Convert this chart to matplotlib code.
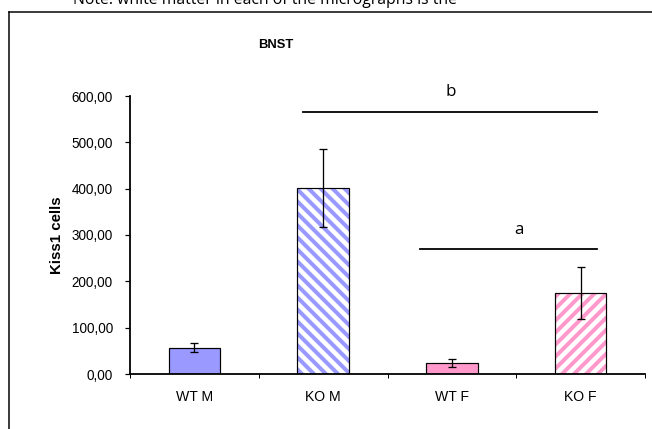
import numpy as np
import matplotlib.pyplot as plt
from matplotlib.lines import Line2D

groups = ['WT M', 'KO M', 'WT F', 'KO F']
cells = [57, 401, 24, 175]
sem = [9, 84, 9, 56]
colors = ['#9999ff', '#9999ff', '#ff99cc', '#ff99cc']
hatches = [None, '\\\\', None, '//']

# significance brackets: (x start, x end, height, letter, letter x)
brackets = [(0.84, 3.13, 566, 'b', 1.99), (1.75, 3.13, 269, 'a', 2.52)]

plt.rcParams['hatch.linewidth'] = 4

fig = plt.figure(figsize=(652 / 72, 429 / 72), dpi=72)
ax = fig.add_axes([130 / 652, 55 / 429, 515 / 652, 278 / 429])

x = np.arange(len(groups))
for i in range(len(groups)):
    if hatches[i] is None:
        ax.bar(x[i], cells[i], width=0.4, color=colors[i], edgecolor='black',
               linewidth=1.2, zorder=2)
    else:
        # striped fill first, black outline drawn on top
        ax.bar(x[i], cells[i], width=0.4, color='white', edgecolor=colors[i],
               hatch=hatches[i], linewidth=0, zorder=2)
        ax.bar(x[i], cells[i], width=0.4, fill=False, edgecolor='black',
               linewidth=1.2, zorder=3)

ax.errorbar(x, cells, yerr=sem, fmt='none', ecolor='black', elinewidth=1.3,
            capsize=4, capthick=1.3, zorder=4)

for x0, x1, h, letter, lx in brackets:
    ax.plot([x0, x1], [h, h], color='black', lw=1.8, clip_on=False)
    ax.text(lx, h + 34, letter, ha='center', va='baseline',
            fontsize=17, family='Open Sans')

ax.set_xlim(-0.5, 3.5)
ax.set_ylim(0, 600)
ax.set_yticks(np.arange(0, 601, 100))
ax.set_yticklabels([f'{v:.2f}'.replace('.', ',') for v in range(0, 601, 100)],
                   family='Liberation Sans', fontsize=13.5)
ax.set_xticks(x)
ax.set_xticklabels(groups, family='Liberation Sans', fontsize=14)
ax.set_xticks(np.arange(-0.5, 3.6, 1), minor=True)
ax.tick_params(axis='x', which='major', length=0, pad=16)
ax.tick_params(axis='x', which='minor', length=4, width=1)
ax.tick_params(axis='y', length=5, width=1.2, pad=12)

ax.spines['top'].set_visible(False)
ax.spines['right'].set_visible(False)
for s in ['left', 'bottom']:
    ax.spines[s].set_linewidth(1.8)

ax.set_ylabel('Kiss1 cells', family='Liberation Sans', fontsize=15,
              fontweight='bold', labelpad=8)

fig.text(276 / 652, 1 - 45 / 429, 'BNST', ha='center', va='center',
         family='Liberation Sans', fontsize=13, fontweight='bold')
fig.text(265 / 652, 1 - 4 / 429, 'Note: white matter in each of the micrographs is the',
         ha='center', va='baseline', family='Open Sans', fontsize=15.8)

# outer frame around the chart
fig.add_artist(Line2D([9 / 652, 9 / 652], [0, 1 - 12 / 429], color='black', lw=1.5))
fig.add_artist(Line2D([9 / 652, 1], [1 - 12 / 429, 1 - 12 / 429], color='black', lw=1.5))

fig.savefig('out.png', dpi=72)
